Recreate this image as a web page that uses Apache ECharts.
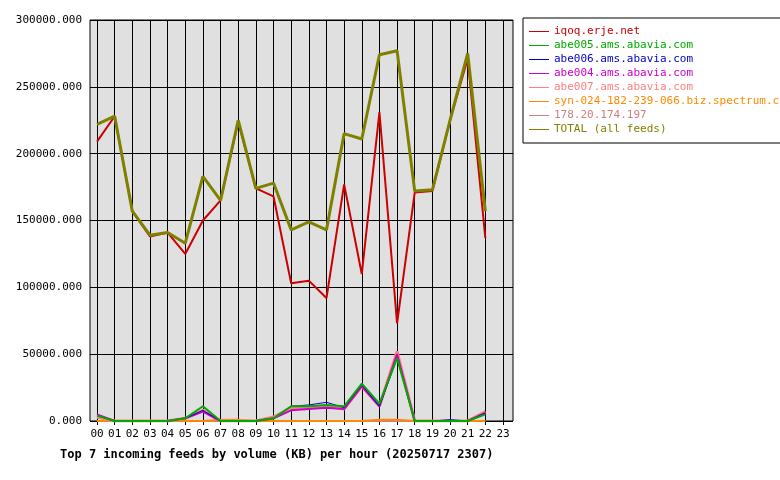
<!DOCTYPE html><html><head><meta charset="utf-8"><script src="https://cdn.jsdelivr.net/npm/echarts@6/dist/echarts.min.js"></script></head><body style="margin:0;background:#fff"><div id="c" style="width:780px;height:480px"></div><script>
const hours=["00","01","02","03","04","05","06","07","08","09","10","11","12","13","14","15","16","17","18","19","20","21","22","23"];
const names=["iqoq.erje.net","abe005.ams.abavia.com","abe006.ams.abavia.com","abe004.ams.abavia.com","abe007.ams.abavia.com","syn-024-182-239-066.biz.spectrum.com","178.20.174.197","TOTAL (all feeds)"];
const colors=["#cc0000","#00aa00","#0000cc","#cc00cc","#ff8080","#ff8800","#cc8080","#808000"];
const iqoq=[209000,228000,157000,138000,141000,125000,150000,165000,224000,174000,168000,103000,105000,92000,177000,110000,231000,73000,171000,172000,225000,271000,137000];
const abe005=[4000,0,0,0,0,2000,11000,0,0,0,2000,11000,11000,12000,11000,28000,13000,47000,0,0,0,0,5000];
const abe006=[4000,0,0,0,0,2000,8000,0,0,0,2000,11000,12000,14000,10000,27000,11000,47000,0,0,1000,0,6000];
const abe004=[5000,0,0,0,0,2000,7000,0,0,0,2000,8000,9000,10000,9000,26000,11000,50000,0,0,0,0,6000];
const abe007=[3000,0,0,0,0,2000,8000,0,0,0,3000,10000,10000,11000,9000,26000,11000,52000,0,0,0,0,7000];
const syn=[0,0,0,0,0,0,0,1000,1000,0,0,0,0,0,0,0,1000,1000,0,0,0,0,0];
const ip178=[0,0,0,0,0,0,0,0,0,0,0,0,0,0,0,0,0,0,0,0,0,0,0];
const total=[222000,228000,157000,139000,141000,133000,183000,165000,225000,174000,178000,143000,149000,143000,215000,211000,274000,277000,172000,173000,225000,275000,157000];
const vals=[iqoq,abe005,abe006,abe004,abe007,syn,ip178,total];
const widths=[2,2,1,2,3,2,2,3];
const order=[7,0,1,2,3,4,5,6];
const F='DejaVu Sans Mono';
const series=order.map(i=>({name:names[i],type:'line',data:vals[i].map((v,k)=>[k,v]),symbol:'none',lineStyle:{width:widths[i],color:colors[i]},itemStyle:{color:colors[i]},xAxisIndex:0,yAxisIndex:0,z:10-order.indexOf(i)}));
const chart=echarts.init(document.getElementById('c'));
chart.setOption({animation:false,
grid:[{left:97,width:406,top:20,height:401},{left:90,width:423,top:20,height:401,show:true,backgroundColor:'#e0e0e0',borderColor:'#000',borderWidth:1,z:0}],
xAxis:[{type:'value',min:0,max:23,interval:1,gridIndex:0,axisLabel:{formatter:v=>hours[v],fontFamily:F,fontSize:11,color:'#000',margin:8},axisLine:{show:false},axisTick:{show:true,length:4,lineStyle:{color:'#000'}},splitLine:{show:true,lineStyle:{color:'#000',width:1}}},
{type:'value',gridIndex:1,show:false}],
yAxis:[{type:'value',min:0,max:300000,interval:50000,gridIndex:0,position:'left',offset:7,axisLabel:{formatter:v=>v.toFixed(3),fontFamily:F,fontSize:11,color:'#000'},axisLine:{show:false},axisTick:{show:true,length:4,lineStyle:{color:'#000'}},splitLine:{show:false}},
{type:'value',min:0,max:300000,interval:50000,gridIndex:1,axisLabel:{show:false},axisLine:{show:false},axisTick:{show:false},splitLine:{show:true,lineStyle:{color:'#000'}}}],
legend:{orient:'vertical',left:523,top:18,padding:[8,6,8,6],borderColor:'#000',borderWidth:1,itemGap:3,itemWidth:20,itemHeight:8,icon:'path://M0,4L20,4L20,5L0,5Z',data:names.map((n,i)=>({name:n,textStyle:{color:colors[i]}})),textStyle:{fontFamily:F,fontSize:11}},
title:{text:'Top 7 incoming feeds by volume (KB) per hour (20250717 2307)',left:55,top:444,textStyle:{fontFamily:F,fontSize:12,fontWeight:'bold',color:'#000'}},
series});
</script></body></html>
